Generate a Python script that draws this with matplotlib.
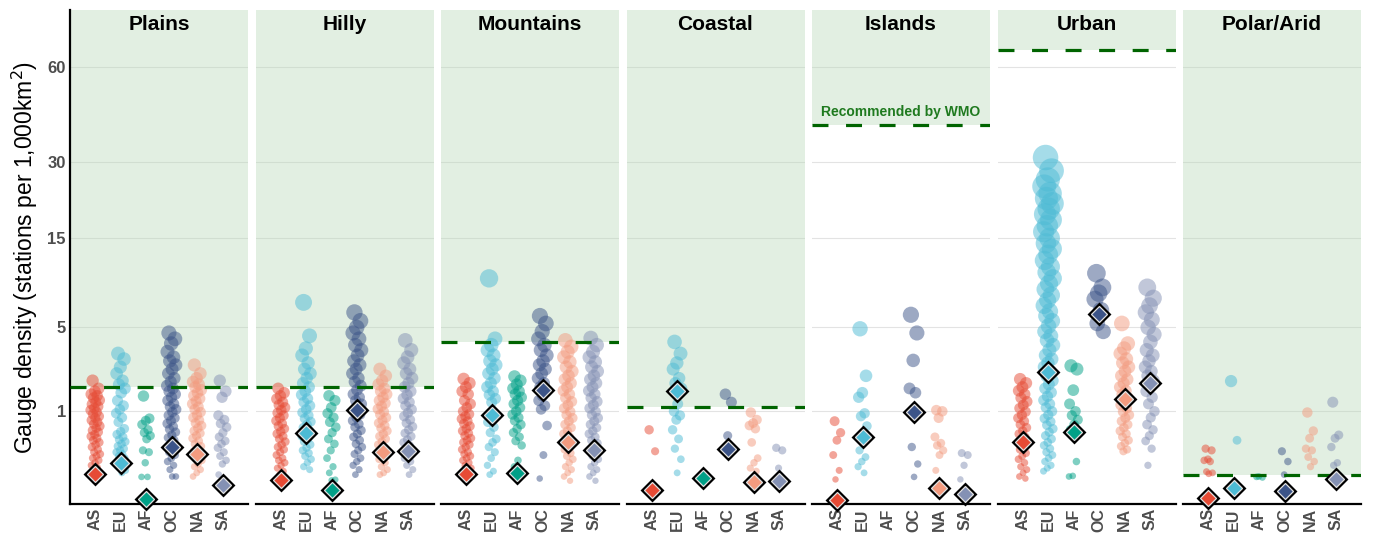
import numpy as np
import matplotlib.pyplot as plt
from matplotlib.patches import Rectangle

plt.rcParams['font.family'] = ['Liberation Sans', 'DejaVu Sans']

continents = ['AS', 'EU', 'AF', 'OC', 'NA', 'SA']
colors = ['#E64B35', '#4DBBD5', '#00A087', '#3C5488', '#F39B7F', '#8491B4']
terrains = ['Plains', 'Hilly', 'Mountains', 'Coastal', 'Islands', 'Urban', 'Polar/Arid']
# WMO recommended minimum gauge density (stations per 1,000 km2)
wmo_density = [1.74, 1.74, 4.0, 1.11, 40.0, 66.7, 0.1]

# station densities per country
plains = {
    'AS': [2.0, 1.7, 1.6, 1.5, 1.45, 1.38, 1.31, 1.25, 1.19, 1.13, 1.08, 1.03, 0.98, 0.93, 0.88, 0.84,
           0.79, 0.75, 0.71, 0.67, 0.63, 0.59, 0.56, 0.52, 0.49, 0.46, 0.43, 0.4, 0.37, 0.34, 0.31,
           0.28, 0.26, 0.24, 0.22, 0.2, 0.18, 0.16, 0.145, 0.13, 0.115],
    'EU': [3.3, 3.0, 2.6, 2.3, 2.0, 1.85, 1.7, 1.55, 1.3, 1.15, 1.05, 0.95, 0.85, 0.75, 0.62, 0.57,
           0.52, 0.48, 0.44, 0.41, 0.38, 0.35, 0.32, 0.3, 0.28, 0.26, 0.24, 0.22, 0.2, 0.18, 0.16,
           0.14, 0.125, 0.11],
    'AF': [1.44, 0.83, 0.78, 0.7, 0.6, 0.55, 0.5, 0.45, 0.3, 0.28, 0.18, 0.088, 0.088],
    'OC': [4.6, 4.2, 3.9, 3.4, 3.1, 2.9, 2.7, 2.5, 2.3, 2.1, 1.95, 1.8, 1.7, 1.6, 1.5, 1.4, 1.3,
           1.2, 1.12, 1.05, 0.98, 0.9, 0.84, 0.78, 0.72, 0.66, 0.61, 0.56, 0.51, 0.47, 0.43, 0.39,
           0.35, 0.31, 0.28, 0.25, 0.22, 0.19, 0.16, 0.13, 0.09, 0.09],
    'NA': [2.7, 2.3, 2.1, 1.95, 1.85, 1.75, 1.65, 1.55, 1.45, 1.36, 1.28, 1.2, 1.12, 1.05, 0.98,
           0.91, 0.85, 0.79, 0.73, 0.68, 0.63, 0.58, 0.54, 0.5, 0.46, 0.42, 0.38, 0.35, 0.32, 0.29,
           0.26, 0.23, 0.2, 0.17, 0.15, 0.13, 0.11, 0.09],
    'SA': [2.0, 1.6, 1.4, 0.9, 0.8, 0.72, 0.65, 0.55, 0.48, 0.42, 0.38, 0.33, 0.28, 0.24, 0.2,
           0.17, 0.1],
}
hilly = {
    'AS': [1.7, 1.55, 1.45, 1.35, 1.25, 1.17, 1.1, 1.03, 0.96, 0.9, 0.84, 0.78, 0.72, 0.67, 0.62,
           0.57, 0.53, 0.49, 0.45, 0.41, 0.37, 0.34, 0.31, 0.28, 0.25, 0.22, 0.2, 0.18, 0.16, 0.14,
           0.12, 0.1, 0.085, 0.075],
    'EU': [7.1, 4.4, 3.6, 3.2, 2.8, 2.5, 2.3, 2.1, 1.9, 1.75, 1.6, 1.48, 1.36, 1.25, 1.15, 1.05,
           0.97, 0.9, 0.83, 0.76, 0.7, 0.64, 0.59, 0.54, 0.49, 0.45, 0.41, 0.37, 0.33, 0.3, 0.27,
           0.24, 0.21, 0.18, 0.15, 0.13],
    'AF': [1.45, 1.3, 1.1, 0.95, 0.85, 0.75, 0.65, 0.55, 0.45, 0.38, 0.3, 0.22, 0.15, 0.11, 0.075,
           0.072],
    'OC': [6.2, 5.5, 5.0, 4.6, 4.2, 3.8, 3.5, 3.2, 2.9, 2.7, 2.5, 2.3, 2.1, 1.95, 1.8, 1.65, 1.5,
           1.4, 1.3, 1.2, 1.1, 1.0, 0.92, 0.85, 0.78, 0.71, 0.65, 0.59, 0.53, 0.48, 0.43, 0.38,
           0.34, 0.3, 0.26, 0.22, 0.19, 0.16, 0.13, 0.1],
    'NA': [2.5, 2.2, 2.0, 1.85, 1.7, 1.6, 1.5, 1.4, 1.3, 1.22, 1.14, 1.06, 0.99, 0.92, 0.85, 0.79,
           0.73, 0.68, 0.63, 0.58, 0.53, 0.49, 0.45, 0.41, 0.37, 0.33, 0.3, 0.27, 0.24, 0.21, 0.18,
           0.15, 0.13, 0.11, 0.1],
    'SA': [4.1, 3.5, 3.1, 2.8, 2.5, 2.3, 2.1, 1.9, 1.75, 1.6, 1.48, 1.36, 1.25, 1.15, 1.05, 0.96,
           0.88, 0.8, 0.73, 0.66, 0.6, 0.54, 0.49, 0.44, 0.4, 0.36, 0.32, 0.28, 0.25, 0.22, 0.19,
           0.16, 0.13, 0.1],
}
mountains = {
    'AS': [2.07, 1.9, 1.75, 1.6, 1.5, 1.3, 1.2, 1.1, 1.0, 0.93, 0.88, 0.82, 0.77, 0.72, 0.67, 0.62,
           0.58, 0.54, 0.5, 0.46, 0.43, 0.4, 0.37, 0.34, 0.31, 0.28, 0.26, 0.24, 0.22, 0.2, 0.18,
           0.16, 0.14, 0.125, 0.11, 0.095],
    'EU': [9.6, 4.2, 3.8, 3.5, 3.2, 2.9, 2.7, 2.5, 2.3, 2.1, 1.9, 1.75, 1.6, 1.48, 1.36, 1.25,
           0.75, 0.65, 0.55, 0.45, 0.4, 0.34, 0.28, 0.22, 0.16, 0.12, 0.1],
    'AF': [2.17, 2.0, 1.85, 1.7, 1.6, 1.5, 1.4, 1.3, 1.2, 1.1, 1.0, 0.92, 0.85, 0.78, 0.7, 0.62,
           0.55, 0.48, 0.42, 0.36, 0.2, 0.15, 0.12],
    'OC': [5.9, 5.3, 4.7, 4.2, 3.8, 3.5, 3.2, 2.9, 2.7, 2.5, 2.3, 2.1, 1.9, 1.75, 1.6, 1.45, 1.3,
           1.15, 1.05, 0.68, 0.25, 0.08],
    'NA': [4.1, 3.7, 3.4, 3.1, 2.85, 2.6, 2.4, 2.2, 2.05, 1.9, 1.75, 1.62, 1.5, 1.38, 1.27, 1.17,
           1.08, 0.99, 0.91, 0.84, 0.77, 0.7, 0.64, 0.58, 0.53, 0.48, 0.43, 0.39, 0.35, 0.31,
           0.27, 0.24, 0.21, 0.18, 0.15, 0.13, 0.11, 0.09, 0.07],
    'SA': [4.25, 3.8, 3.4, 3.1, 2.85, 2.6, 2.4, 2.2, 2.05, 1.9, 1.75, 1.62, 1.5, 1.38, 1.27, 1.17,
           1.08, 0.99, 0.91, 0.84, 0.77, 0.7, 0.64, 0.58, 0.53, 0.48, 0.43, 0.39, 0.35, 0.31,
           0.27, 0.24, 0.21, 0.18, 0.15, 0.13, 0.11, 0.09, 0.07],
}
coastal = {
    'AS': [0.6, 0.29],
    'EU': [4.0, 3.3, 2.8, 2.5, 2.1, 1.9, 1.7, 1.2, 1.0, 0.9, 0.8, 0.6, 0.45, 0.32, 0.21, 0.11],
    'AF': [],
    'OC': [1.5, 1.25, 0.5],
    'NA': [0.97, 0.8, 0.73, 0.68, 0.62, 0.4, 0.22, 0.18, 0.14, 0.12],
    'SA': [0.33, 0.3, 0.14],
}
islands = {
    'AS': [0.77, 0.55, 0.43, 0.25, 0.125, 0.076],
    'EU': [4.9, 2.2, 1.55, 1.4, 0.95, 0.88, 0.67, 0.39, 0.3, 0.23, 0.19, 0.15, 0.11],
    'AF': [],
    'OC': [6.0, 4.6, 2.93, 1.7, 1.55, 0.34, 0.17, 0.088],
    'NA': [1.03, 1.0, 0.84, 0.48, 0.39, 0.36, 0.3, 0.25, 0.125],
    'SA': [0.27, 0.25, 0.16, 0.076],
}
urban = {
    'AS': [2.06, 1.9, 1.75, 1.62, 1.5, 1.38, 1.27, 1.17, 1.08, 0.99, 0.91, 0.84, 0.77, 0.7, 0.64,
           0.58, 0.53, 0.48, 0.43, 0.39, 0.35, 0.31, 0.27, 0.24, 0.21, 0.18, 0.15, 0.13, 0.11,
           0.09, 0.08],
    'EU': [31.2, 28, 26, 24.5, 23, 22, 21, 20, 19, 18, 17, 16, 15, 14.2, 13.4, 12.6, 11.8, 11,
           10.3, 9.6, 9, 8.4, 7.8, 7.3, 6.8, 6.3, 5.9, 5.5, 5.1, 4.7, 4.4, 4.1, 3.8, 3.5, 3.2, 3.0,
           2.8, 2.6, 2.4, 2.2, 2.0, 1.85, 1.7, 1.56, 1.43, 1.31, 1.2, 1.1, 1.0, 0.91, 0.83, 0.76,
           0.69, 0.62, 0.56, 0.5, 0.45, 0.4, 0.36, 0.32, 0.28, 0.25, 0.22, 0.19, 0.16, 0.14, 0.12],
    'AF': [2.66, 2.5, 1.64, 1.2, 1.0, 0.9, 0.8, 0.7, 0.6, 0.19, 0.093, 0.09],
    'OC': [10.2, 8.6, 8.0, 7.4, 6.4, 5.3, 4.7],
    'NA': [5.3, 3.9, 3.6, 3.3, 3.0, 2.8, 2.6, 2.4, 2.2, 2.05, 1.9, 1.75, 1.62, 1.5, 1.38, 1.27,
           1.17, 1.08, 0.99, 0.91, 0.84, 0.77, 0.7, 0.64, 0.58, 0.53, 0.48, 0.43, 0.39, 0.35, 0.31,
           0.29],
    'SA': [8.6, 7.5, 6.8, 6.2, 5.6, 5.0, 4.5, 4.0, 3.5, 3.2, 2.9, 2.6, 2.4, 2.2, 2.0, 1.8, 1.6,
           1.4, 1.2, 1.0, 0.85, 0.7, 0.6, 0.5, 0.42, 0.32, 0.16],
}
polar = {
    'AS': [0.32, 0.3, 0.21, 0.2, 0.19, 0.117, 0.11, 0.105],
    'EU': [1.98, 0.43],
    'AF': [0.088, 0.085, 0.09],
    'OC': [0.29, 0.19, 0.1],
    'NA': [0.97, 0.58, 0.46, 0.32, 0.3, 0.23, 0.19, 0.15],
    'SA': [1.25, 0.51, 0.46, 0.34, 0.18, 0.16],
}

# continental averages (diamonds), None where not shown
plains_mean = [0.106, 0.178, 0.0163, 0.34, 0.265, 0.0525]
hilly_mean = [0.072, 0.54, 0.037, 1.03, 0.28, 0.29]
mountains_mean = [0.102, 0.9, 0.11, 1.63, 0.406, 0.309]
coastal_mean = [0.0367, 1.6, 0.085, 0.32, 0.066, 0.067]
islands_mean = [0.015, 0.48, None, 0.98, 0.0445, 0.0277]
urban_mean = [0.41, 2.37, 0.56, 6.1, 1.36, 1.89]
polar_mean = [0.018, 0.042, None, 0.035, None, 0.076]

panel_points = [plains, hilly, mountains, coastal, islands, urban, polar]
panel_means = [plains_mean, hilly_mean, mountains_mean, coastal_mean,
               islands_mean, urban_mean, polar_mean]

W, H = 1373, 537
fig = plt.figure(figsize=(W / 100, H / 100), dpi=100)

grey = '#4D4D4D'
for i, terrain in enumerate(terrains):
    left = 70 + i * 185.5
    ax = fig.add_axes([left / W, 33 / H, 178 / W, 494 / H])
    ax.set_yscale('function', functions=(np.cbrt, lambda v: v ** 3))
    ax.set_ylim(0.01, 85)
    ax.set_xlim(0, 7)
    ax.set_yticks([1, 5, 15, 30, 60])
    ax.grid(axis='y', color='#e3e3e3', lw=0.8)
    ax.set_axisbelow(True)

    # shaded area above the WMO recommendation
    wmo = wmo_density[i]
    ax.add_patch(Rectangle((0, wmo), 7, 85 - wmo, facecolor='#b8d8b8', alpha=0.4,
                           edgecolor='none', zorder=1))
    ax.axhline(wmo, color='#006400', lw=2.3, dashes=(5, 5.5), zorder=4)

    for j, cont in enumerate(continents):
        vals = np.array(panel_points[i][cont], dtype=float)
        if len(vals):
            k = np.arange(len(vals))
            x = j + 1 + ((k * 0.618034 + 0.21) % 1 - 0.5) * 0.38
            diam = 3.5 + 7.0 * np.cbrt(vals)  # pixels
            ax.scatter(x, vals, s=(diam * 0.72) ** 2, color=colors[j], alpha=0.5,
                       linewidths=0, zorder=3)
        m = panel_means[i][j]
        if m is not None:
            ax.plot(j + 1, m, marker='D', ms=10.5, mfc=colors[j], mec='black', mew=2.0,
                    zorder=6, clip_on=False)
            ax.plot(j + 1, m, marker='D', ms=8.0, mfc=colors[j], mec='#e0e0e0', mew=0.9,
                    zorder=7, clip_on=False)

    ax.set_xticks(range(1, 7))
    ax.set_xticklabels(continents, rotation=90, fontweight='bold', color=grey, fontsize=11.5)
    ax.tick_params(length=0, pad=3)
    for s in ['top', 'right']:
        ax.spines[s].set_visible(False)
    ax.spines['bottom'].set_linewidth(1.6)
    if i == 0:
        ax.spines['left'].set_linewidth(1.6)
        ax.set_yticklabels(['1', '5', '15', '30', '60'], fontweight='bold', color=grey,
                           fontsize=12)
        ax.set_ylabel('Gauge density (stations per 1,000km$^2$)', fontsize=16.5, labelpad=5)
    else:
        ax.spines['left'].set_visible(False)
        ax.set_yticklabels([])

    ax.text(3.5, 0.97, terrain, transform=ax.get_xaxis_transform(), ha='center', va='center',
            fontsize=15, fontweight='bold')
    if terrain == 'Islands':
        ax.annotate('Recommended by WMO', xy=(3.5, wmo), xytext=(0, 9.5),
                    textcoords='offset points', ha='center', va='center', fontsize=10,
                    fontweight='bold', color='#1f7a1f', zorder=8)

fig.savefig('out.png', dpi=100)
